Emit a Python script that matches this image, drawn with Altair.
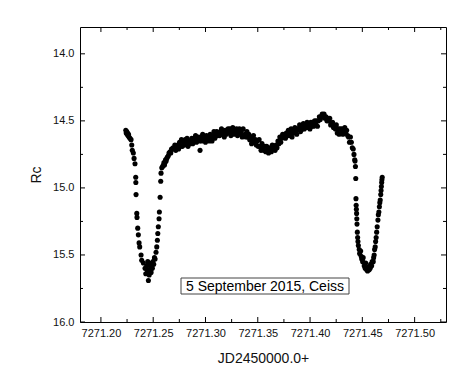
import altair as alt
import pandas as pd

# ---- data: JD - 2450000 and Rc magnitude ----
# first eclipse
ecl1_jd = [
    7271.2238, 7271.2242, 7271.2247, 7271.2251, 7271.2255, 7271.2259, 7271.2264, 7271.2269, 7271.2278, 7271.2288,
    7271.2295, 7271.2300, 7271.2310, 7271.2317, 7271.2326, 7271.2333, 7271.2334, 7271.2336, 7271.2343, 7271.2345,
    7271.2352, 7271.2358, 7271.2365, 7271.2371, 7271.2384, 7271.2390, 7271.2406, 7271.2422, 7271.2429, 7271.2438,
    7271.2445, 7271.2448, 7271.2454, 7271.2458, 7271.2462, 7271.2466, 7271.2470, 7271.2476, 7271.2480, 7271.2486,
    7271.2492, 7271.2498, 7271.2505, 7271.2512, 7271.2518, 7271.2527, 7271.2534, 7271.2540, 7271.2544, 7271.2549,
    7271.2556, 7271.2559, 7271.2566, 7271.2572, 7271.2575, 7271.2582, 7271.2590, 7271.2597, 7271.2603, 7271.2608,
    7271.2613, 7271.2618, 7271.2624, 7271.2630, 7271.2636, 7271.2645, 7271.2651, 7271.2661, 7271.2668, 7271.2675,
    7271.2683, 7271.2690,
]
ecl1_rc = [
    14.57, 14.59, 14.58, 14.60, 14.59, 14.61, 14.60, 14.62, 14.63, 14.64,
    14.68, 14.72, 14.74, 14.78, 14.82, 14.92, 14.96, 15.05, 15.19, 15.22,
    15.30, 15.35, 15.41, 15.44, 15.50, 15.54, 15.56, 15.60, 15.64, 15.58,
    15.62, 15.55, 15.69, 15.61, 15.65, 15.57, 15.62, 15.59, 15.63, 15.56,
    15.60, 15.55, 15.57, 15.52, 15.53, 15.48, 15.44, 15.39, 15.34, 15.29,
    15.23, 15.18, 15.07, 14.95, 14.89, 14.85, 14.84, 14.83, 14.81, 14.83,
    14.81, 14.79, 14.80, 14.78, 14.77, 14.76, 14.74, 14.73, 14.74, 14.71,
    14.71, 14.70,
]
# out-of-eclipse part
mid_jd = [
    7271.2698, 7271.2707, 7271.2716, 7271.2725, 7271.2734, 7271.2743, 7271.2752, 7271.2761, 7271.2770, 7271.2779,
    7271.2788, 7271.2797, 7271.2806, 7271.2815, 7271.2824, 7271.2833, 7271.2842, 7271.2851, 7271.2860, 7271.2869,
    7271.2878, 7271.2887, 7271.2896, 7271.2905, 7271.2914, 7271.2923, 7271.2932, 7271.2941, 7271.2948,
    7271.2955, 7271.2964, 7271.2973, 7271.2982, 7271.2991, 7271.3000, 7271.3009, 7271.3018, 7271.3027, 7271.3036,
    7271.3045, 7271.3054, 7271.3063, 7271.3072, 7271.3081, 7271.3090, 7271.3099, 7271.3108, 7271.3117, 7271.3126,
    7271.3135, 7271.3144, 7271.3153, 7271.3162, 7271.3171, 7271.3180, 7271.3189, 7271.3198, 7271.3207, 7271.3216,
    7271.3225, 7271.3234, 7271.3243, 7271.3252, 7271.3261, 7271.3270, 7271.3279, 7271.3288, 7271.3297, 7271.3306,
    7271.3315, 7271.3324, 7271.3333, 7271.3342, 7271.3351, 7271.3360, 7271.3369, 7271.3378, 7271.3387, 7271.3396,
    7271.3405, 7271.3414, 7271.3423, 7271.3432, 7271.3441, 7271.3450, 7271.3459, 7271.3468, 7271.3477, 7271.3486,
    7271.3495, 7271.3504, 7271.3513, 7271.3522, 7271.3531, 7271.3540, 7271.3549, 7271.3558, 7271.3567, 7271.3576,
    7271.3585, 7271.3594, 7271.3603, 7271.3612, 7271.3621, 7271.3630, 7271.3639, 7271.3648, 7271.3657, 7271.3666,
    7271.3675, 7271.3684, 7271.3693, 7271.3702, 7271.3711, 7271.3720, 7271.3729, 7271.3738, 7271.3747, 7271.3756,
    7271.3765, 7271.3774, 7271.3783, 7271.3792, 7271.3801, 7271.3810, 7271.3819, 7271.3828, 7271.3837, 7271.3846,
    7271.3855, 7271.3864, 7271.3873, 7271.3882, 7271.3891, 7271.3900, 7271.3909, 7271.3918, 7271.3927, 7271.3936,
    7271.3945, 7271.3954, 7271.3963, 7271.3972, 7271.3981, 7271.3990, 7271.3999, 7271.4008, 7271.4017, 7271.4026,
    7271.4035, 7271.4044, 7271.4053, 7271.4062, 7271.4071, 7271.4080, 7271.4089, 7271.4098, 7271.4107, 7271.4116,
    7271.4125, 7271.4134, 7271.4143, 7271.4152, 7271.4161, 7271.4170, 7271.4179, 7271.4188, 7271.4197, 7271.4206,
    7271.4215, 7271.4224, 7271.4233, 7271.4242, 7271.4251, 7271.4260, 7271.4269, 7271.4278, 7271.4287, 7271.4296,
    7271.4305, 7271.4314, 7271.4323, 7271.4332, 7271.4341, 7271.4350, 7271.4359, 7271.4368, 7271.4377, 7271.4386,
    7271.4395, 7271.4404, 7271.4413, 7271.4420, 7271.4427, 7271.4430, 7271.4434,
]
mid_rc = [
    14.71, 14.68, 14.72, 14.69, 14.68, 14.71, 14.66, 14.69, 14.64, 14.69,
    14.66, 14.68, 14.64, 14.67, 14.63, 14.69, 14.65, 14.67, 14.65, 14.63,
    14.67, 14.63, 14.65, 14.61, 14.66, 14.64, 14.62, 14.65, 14.72,
    14.62, 14.65, 14.60, 14.64, 14.63, 14.66, 14.61, 14.64, 14.62, 14.65,
    14.60, 14.63, 14.65, 14.61, 14.58, 14.63, 14.61, 14.58, 14.61, 14.59,
    14.61, 14.58, 14.56, 14.60, 14.59, 14.62, 14.57, 14.60, 14.58, 14.56,
    14.59, 14.56, 14.61, 14.58, 14.55, 14.60, 14.57, 14.59, 14.56, 14.61,
    14.58, 14.56, 14.60, 14.58, 14.62, 14.56, 14.61, 14.60, 14.62, 14.58,
    14.62, 14.60, 14.64, 14.62, 14.67, 14.64, 14.61, 14.66, 14.64, 14.68,
    14.65, 14.69, 14.64, 14.69, 14.72, 14.67, 14.69, 14.72, 14.69, 14.73,
    14.69, 14.72, 14.74, 14.70, 14.71, 14.73, 14.68, 14.71, 14.69, 14.72,
    14.68, 14.70, 14.65, 14.67, 14.62, 14.66, 14.63, 14.60, 14.62, 14.60,
    14.63, 14.59, 14.61, 14.57, 14.61, 14.59, 14.56, 14.62, 14.57, 14.59,
    14.55, 14.58, 14.60, 14.56, 14.56, 14.53, 14.58, 14.54, 14.56, 14.52,
    14.56, 14.53, 14.55, 14.51, 14.55, 14.53, 14.56, 14.51, 14.54, 14.51,
    14.54, 14.50, 14.52, 14.50, 14.54, 14.50, 14.47, 14.49, 14.47, 14.45,
    14.47, 14.45, 14.48, 14.47, 14.50, 14.48, 14.50, 14.48, 14.53, 14.52,
    14.51, 14.55, 14.54, 14.56, 14.53, 14.59, 14.56, 14.60, 14.56, 14.59,
    14.56, 14.60, 14.57, 14.55, 14.59, 14.57, 14.61, 14.62, 14.66, 14.62,
    14.66, 14.70, 14.71, 14.75, 14.79, 14.80, 14.84,
]
# second eclipse
ecl2_jd = [
    7271.4437, 7271.4439, 7271.4441, 7271.4443, 7271.4445, 7271.4447, 7271.4449, 7271.4452, 7271.4455, 7271.4458,
    7271.4462, 7271.4470, 7271.4474, 7271.4484, 7271.4489, 7271.4494, 7271.4503, 7271.4508, 7271.4518, 7271.4527,
    7271.4532, 7271.4541, 7271.4550, 7271.4555, 7271.4565, 7271.4575, 7271.4579, 7271.4589, 7271.4594, 7271.4604,
    7271.4608, 7271.4613, 7271.4617, 7271.4623, 7271.4627, 7271.4632, 7271.4637, 7271.4642, 7271.4649, 7271.4653,
    7271.4658, 7271.4663, 7271.4667, 7271.4671, 7271.4676, 7271.4679, 7271.4682, 7271.4685, 7271.4687, 7271.4690,
]
ecl2_rc = [
    14.93, 15.08, 15.13, 15.16, 15.19, 15.23, 15.27, 15.33, 15.37, 15.40,
    15.43, 15.46, 15.49, 15.47, 15.51, 15.53, 15.55, 15.52, 15.58, 15.60,
    15.56, 15.61, 15.62, 15.59, 15.61, 15.60, 15.57, 15.58, 15.55, 15.55,
    15.52, 15.50, 15.46, 15.44, 15.40, 15.37, 15.33, 15.29, 15.24, 15.20,
    15.18, 15.14, 15.11, 15.09, 15.05, 15.02, 14.99, 14.96, 14.94, 14.92,
]

x_major = [7271.20, 7271.25, 7271.30, 7271.35, 7271.40, 7271.45, 7271.50]
x_minor = [7271.225, 7271.275, 7271.325, 7271.375, 7271.425, 7271.475, 7271.525]
y_major = [14.0, 14.5, 15.0, 15.5, 16.0]
y_minor = [14.25, 14.75, 15.25, 15.75]
x_domain = [7271.18, 7271.53]
y_domain = [13.8, 16.0]
note = "5 September 2015, Ceiss"

W, H = 366, 295
FONT = "Liberation Sans"

df = pd.DataFrame({
    "jd": ecl1_jd + mid_jd + ecl2_jd,
    "rc": ecl1_rc + mid_rc + ecl2_rc,
})

xs = alt.Scale(domain=x_domain, nice=False, zero=False)
ys = alt.Scale(domain=y_domain, nice=False, zero=False, reverse=True)

points = alt.Chart(df).mark_circle(size=26, color="black", opacity=1).encode(
    x=alt.X("jd:Q", scale=xs,
            axis=alt.Axis(values=x_major, format=".2f", title="JD2450000.0+",
                          labelPadding=5, titlePadding=13)),
    y=alt.Y("rc:Q", scale=ys,
            axis=alt.Axis(values=y_major, format=".1f", title="Rc",
                          labelPadding=6, titlePadding=9)),
)

def xticks(vals, length):
    d = pd.DataFrame({"v": vals})
    bottom = alt.Chart(d).mark_rule(color="black", strokeWidth=1).encode(
        x=alt.X("v:Q", scale=xs), y=alt.value(H), y2=alt.value(H - length))
    top = alt.Chart(d).mark_rule(color="black", strokeWidth=1).encode(
        x=alt.X("v:Q", scale=xs), y=alt.value(0), y2=alt.value(length))
    return [bottom, top]

def yticks(vals, length):
    d = pd.DataFrame({"v": vals})
    left = alt.Chart(d).mark_rule(color="black", strokeWidth=1).encode(
        y=alt.Y("v:Q", scale=ys), x=alt.value(0), x2=alt.value(length))
    right = alt.Chart(d).mark_rule(color="black", strokeWidth=1).encode(
        y=alt.Y("v:Q", scale=ys), x=alt.value(W), x2=alt.value(W - length))
    return [left, right]

box = alt.Chart(pd.DataFrame({"t": [note]})).mark_rect(
    fill="white", stroke="#444444", strokeWidth=1
).encode(x=alt.value(101), x2=alt.value(269), y=alt.value(251), y2=alt.value(267))

label = alt.Chart(pd.DataFrame({"t": [note]})).mark_text(
    font=FONT, fontSize=14, color="black", align="center", baseline="middle"
).encode(text="t:N", x=alt.value(185), y=alt.value(259.5))

layers = ([points] + xticks(x_major, 5) + xticks(x_minor, 3)
          + yticks(y_major, 5) + yticks(y_minor, 3) + [box, label])

chart = alt.layer(*layers).properties(
    width=W, height=H,
    autosize=alt.AutoSizeParams(type="none"),
    padding={"left": 72, "top": 19, "right": 20, "bottom": 62},
    background="white",
).configure_view(
    stroke="black", strokeWidth=1
).configure_axis(
    domain=False, ticks=False, grid=False,
    labelFont=FONT, labelFontSize=11, labelColor="#111111",
    titleFont=FONT, titleFontSize=14, titleFontWeight="normal", titleColor="#111111",
)

chart.save("out.html", embed_options={"renderer": "svg", "actions": False})
